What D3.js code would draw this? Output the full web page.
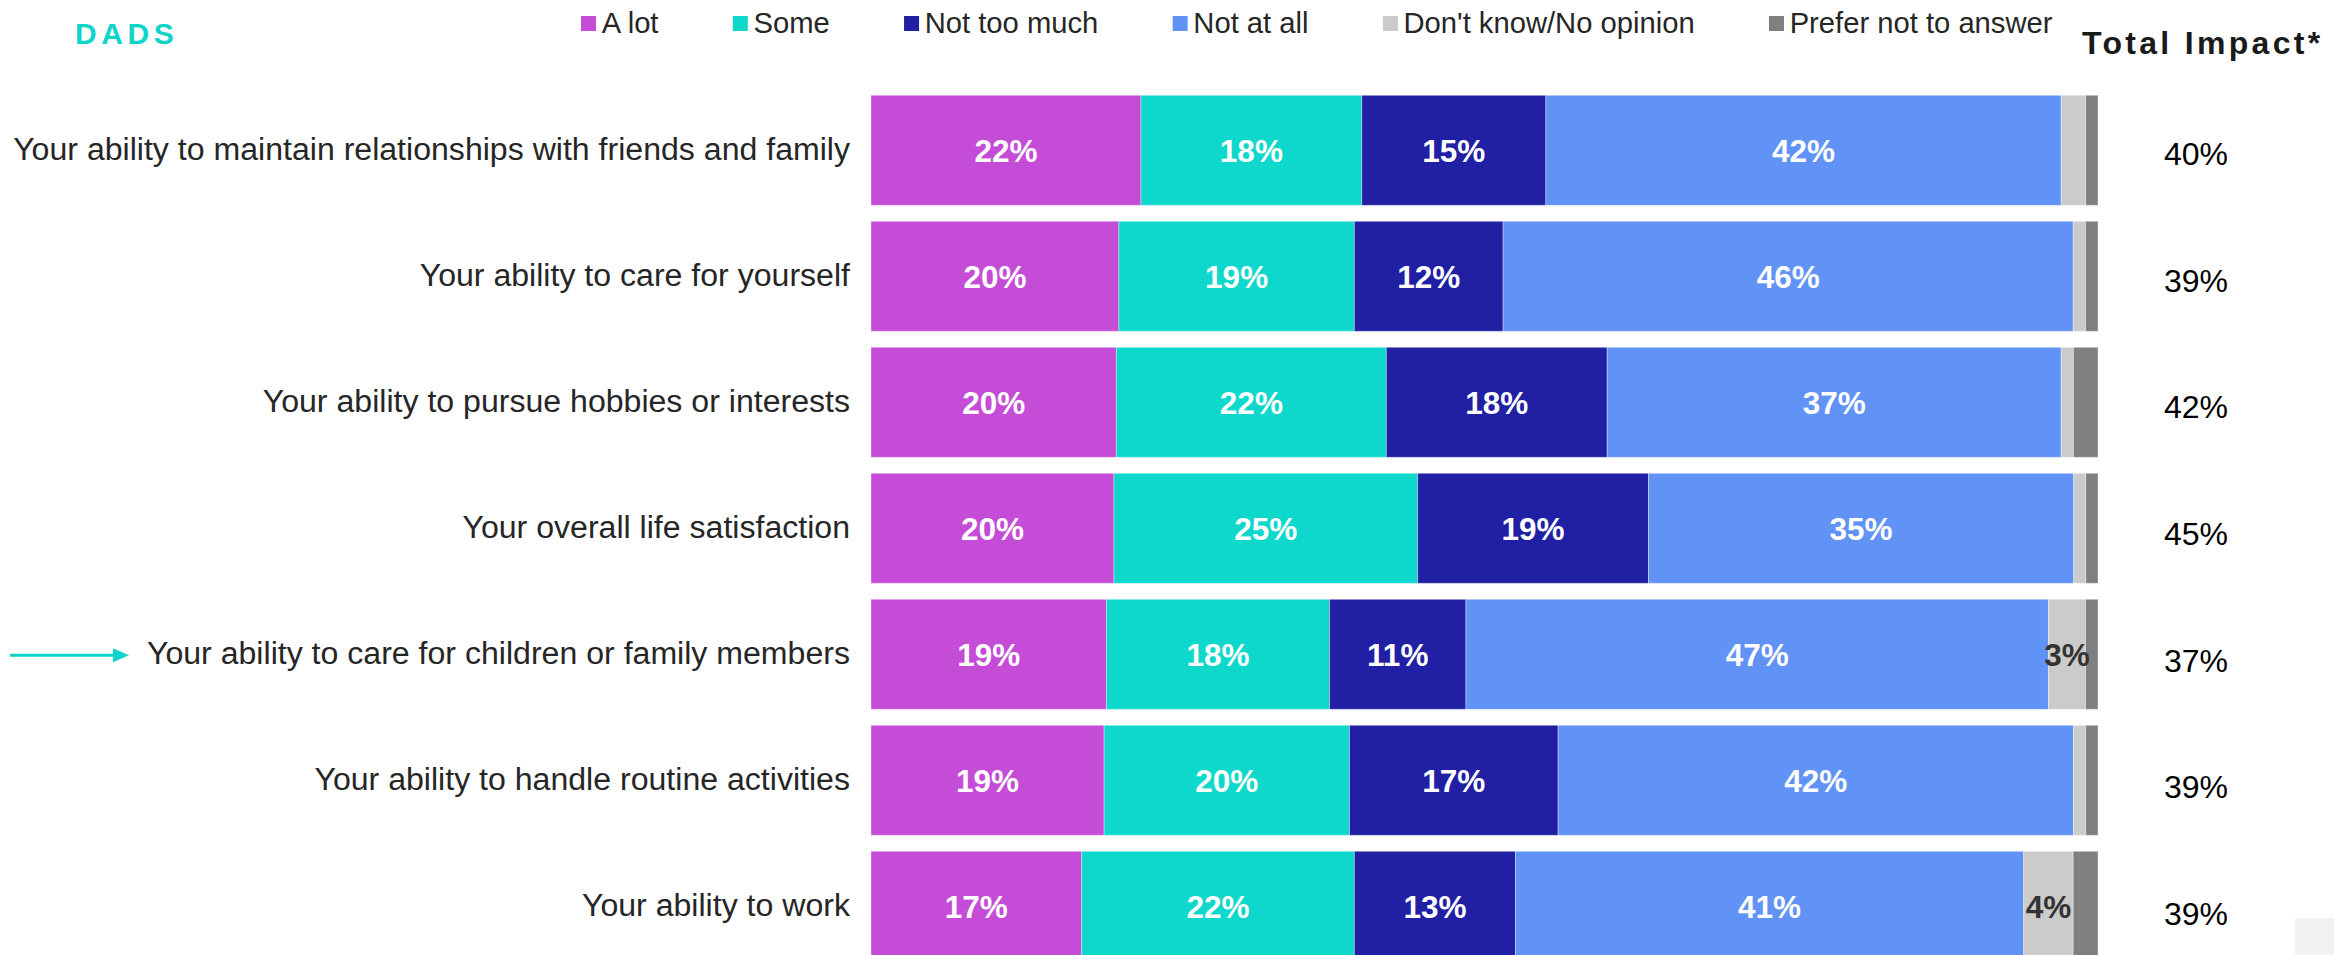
<!DOCTYPE html>
<html>
<head>
<meta charset="utf-8">
<script src="https://cdn.jsdelivr.net/npm/d3@7"></script>
<style>
  html, body { margin: 0; padding: 0; background: #ffffff; }
  svg { display: block; font-family: "Liberation Sans", Arial, Helvetica, sans-serif; }
</style>
</head>
<body>
<svg id="chart" width="2334" height="955"></svg>
<script>
// Survey items (rows, top to bottom)
const categories = [
  "Your ability to maintain relationships with friends and family",
  "Your ability to care for yourself",
  "Your ability to pursue hobbies or interests",
  "Your overall life satisfaction",
  "Your ability to care for children or family members",
  "Your ability to handle routine activities",
  "Your ability to work"
];

// Response options (stack order, left to right)
const seriesNames = ["A lot", "Some", "Not too much", "Not at all", "Don't know/No opinion", "Prefer not to answer"];

// Percent of dads giving each response, per row
const aLot       = [22, 20, 20, 20, 19, 19, 17];
const some       = [18, 19, 22, 25, 18, 20, 22];
const notTooMuch = [15, 12, 18, 19, 11, 17, 13];
const notAtAll   = [42, 46, 37, 35, 47, 42, 41];
const dontKnow   = [ 2,  1,  1,  1,  3,  1,  4];
const preferNot  = [ 1,  1,  2,  1,  1,  1,  2];

// "A lot" + "Some"
const totalImpact = [40, 39, 42, 45, 37, 39, 39];

const highlightedItem = "Your ability to care for children or family members";

const seriesValues = [aLot, some, notTooMuch, notAtAll, dontKnow, preferNot];
const seriesColors = ["#c54cd7", "#0ed8cc", "#211fa3", "#6192f5", "#cbcbcb", "#7f7f7f"];
const labelColors  = ["#ffffff", "#ffffff", "#ffffff", "#ffffff", "#333333", "#333333"];
const accent = "#10d3ca";

// Build the row table the stack generator needs
const rows = categories.map((c, i) => {
  const r = { category: c };
  seriesNames.forEach((s, k) => { r[s] = seriesValues[k][i]; });
  return r;
});

const svg = d3.select("#chart");

// Scales: each row is a 100% stacked bar
const x = d3.scaleLinear().domain([0, 1]).range([871, 2098]);
const y = d3.scaleBand()
  .domain(categories)
  .range([87.3, 969.3])
  .paddingInner(16 / 126)
  .paddingOuter(8 / 126);
const color = d3.scaleOrdinal().domain(seriesNames).range(seriesColors);
const labelColor = d3.scaleOrdinal().domain(seriesNames).range(labelColors);
const yTotal = d3.scalePoint().domain(categories).range([153.5, 913.5]);

const stacked = d3.stack().keys(seriesNames).offset(d3.stackOffsetExpand)(rows);

// Bars
const layers = svg.append("g").attr("class", "bars")
  .selectAll("g")
  .data(stacked)
  .join("g")
  .attr("fill", d => color(d.key));

layers.selectAll("rect")
  .data(d => d)
  .join("rect")
  .attr("x", d => x(d[0]))
  .attr("y", d => y(d.data.category))
  .attr("width", d => x(d[1]) - x(d[0]))
  .attr("height", y.bandwidth())
  .attr("stroke", "rgba(255,255,255,0.35)")
  .attr("stroke-width", 1);

// Segment value labels (small slivers stay unlabeled)
const labelData = [];
stacked.forEach(layer => {
  layer.forEach(d => {
    const v = d.data[layer.key];
    if (v >= 3) labelData.push({ key: layer.key, v, x0: d[0], x1: d[1], cat: d.data.category });
  });
});

svg.append("g").attr("class", "values")
  .selectAll("text")
  .data(labelData)
  .join("text")
  .attr("x", d => (x(d.x0) + x(d.x1)) / 2)
  .attr("y", d => y(d.cat) + y.bandwidth() / 2 + 12)
  .attr("text-anchor", "middle")
  .attr("font-size", 31.5)
  .attr("font-weight", "bold")
  .attr("fill", d => labelColor(d.key))
  .text(d => d.v + "%");

// Row labels
svg.append("g").attr("class", "row-labels")
  .selectAll("text")
  .data(categories)
  .join("text")
  .attr("x", 850)
  .attr("y", d => y(d) + y.bandwidth() / 2 + 10)
  .attr("text-anchor", "end")
  .attr("font-size", 32.1)
  .attr("fill", "#262626")
  .text(d => d);

// Pointer arrow for the highlighted item
const ay = y(highlightedItem) + y.bandwidth() / 2 + 1;
const arrow = svg.append("g").attr("class", "pointer");
arrow.append("line")
  .attr("x1", 10).attr("x2", 116)
  .attr("y1", ay).attr("y2", ay)
  .attr("stroke", accent).attr("stroke-width", 3);
arrow.append("path")
  .attr("d", `M113,${ay - 7}L129,${ay}L113,${ay + 7}Z`)
  .attr("fill", accent);

// Total impact column
svg.append("text")
  .attr("x", 2082).attr("y", 54)
  .attr("font-size", 32)
  .attr("font-weight", "bold")
  .attr("letter-spacing", 3.3)
  .attr("fill", "#1a1a1a")
  .text("Total Impact*");

svg.append("g").attr("class", "totals")
  .selectAll("text")
  .data(categories)
  .join("text")
  .attr("x", 2196)
  .attr("y", (d, i) => yTotal(d) + 11.5)
  .attr("text-anchor", "middle")
  .attr("font-size", 32)
  .attr("fill", "#000000")
  .text((d, i) => totalImpact[i] + "%");

// Title
svg.append("text")
  .attr("x", 75).attr("y", 43.5)
  .attr("font-size", 30)
  .attr("font-weight", "bold")
  .attr("letter-spacing", 4.6)
  .attr("fill", accent)
  .text("DADS");

// Legend laid out left to right from measured text widths
const legend = svg.append("g").attr("class", "legend");
let lx = 581;
seriesNames.forEach(name => {
  legend.append("rect")
    .attr("x", lx).attr("y", 16)
    .attr("width", 15).attr("height", 15)
    .attr("fill", color(name));
  const t = legend.append("text")
    .attr("x", lx + 20.7).attr("y", 32.7)
    .attr("font-size", 29.2)
    .attr("fill", "#262626")
    .text(name);
  lx = lx + 20.7 + t.node().getComputedTextLength() + 74.3;
});

// Corner tab
svg.append("rect")
  .attr("x", 2295).attr("y", 918)
  .attr("width", 39).attr("height", 37)
  .attr("fill", "#f2f2f2");
</script>
</body>
</html>
